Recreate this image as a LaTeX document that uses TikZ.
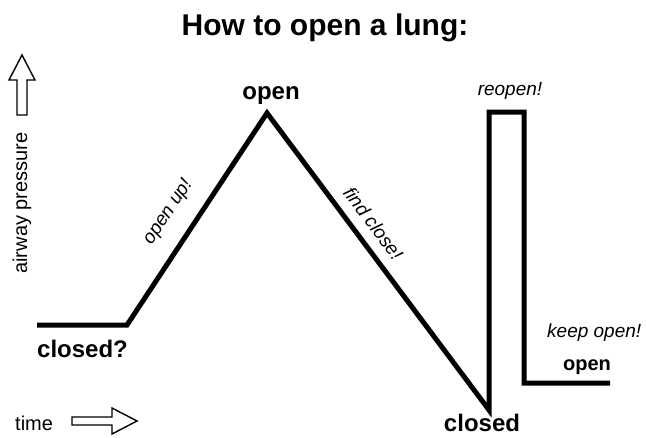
\documentclass[tikz,border=0pt]{standalone}
\usepackage{fontspec}
\setmainfont{Liberation Sans}
\usepackage{tikz}
\usetikzlibrary{positioning}

\begin{document}
\begin{tikzpicture}[
  x=1pt, y=-1pt,
  curve/.style={line width=5pt, line join=miter, black},
  hollow/.style={draw, line width=1.4pt, fill=white, line join=miter},
  state/.style={font=\fontsize{24}{26}\selectfont\bfseries, inner sep=0pt, anchor=base},
  statesmall/.style={state, font=\fontsize{20}{22}\selectfont\bfseries},
  action/.style={font=\fontsize{19}{21}\selectfont\itshape, inner sep=0pt},
  axis/.style={font=\fontsize{20}{22}\selectfont, inner sep=0pt}]
  \useasboundingbox (0,0) rectangle (646,437);
  % title
  \node[font=\fontsize{30}{32}\selectfont\bfseries, inner sep=0pt, anchor=base] (title) at (325,35) {How to open a lung:};
  % pressure course
  \coordinate (start) at (37,325);
  \coordinate (rise) at (127,325);
  \coordinate (peak) at (267,113);
  \coordinate (valley) at (489,410);
  \coordinate (jumpup) at (489,112);
  \coordinate (jumptop) at (524,112);
  \coordinate (level) at (524,383);
  \coordinate (stop) at (610,383);
  \draw[curve] (start) -- (rise) -- (peak) -- (valley) -- (jumpup) -- (jumptop) -- (level) -- (stop);
  % sloped actions
  \path (rise) -- node[action, pos=0.46, sloped, above=19pt] (openup) {open up!} (peak);
  \path (peak) -- node[action, pos=0.41, sloped, above=12pt] (findclose) {find close!} (valley);
  % states
  \node[state] (opentop) at (271,99) {open};
  \node[state, anchor=base west] (closedq) at (37,357) {closed?};
  \node[state] (closedbot) at (482,431) {closed};
  \node[statesmall] (openright) at (587,370) {open};
  \node[action, anchor=base west] (keepopen) at (547,337) {keep open!};
  \node[action, anchor=base] (reopen) at (510,95) {reopen!};
  % axes
  \node[axis, rotate=90] (pressure) at (22,203) {airway pressure};
  \node[axis, anchor=base west] (time) at (15,430) {time};
  \draw[hollow] (22,55) -- (35,80) -- (27,80) -- (27,115) -- (17,115) -- (17,80) -- (9,80) -- cycle;
  \draw[hollow] (137,421) -- (112,408) -- (112,417) -- (72,417) -- (72,425) -- (112,425) -- (112,434) -- cycle;
\end{tikzpicture}
\end{document}
